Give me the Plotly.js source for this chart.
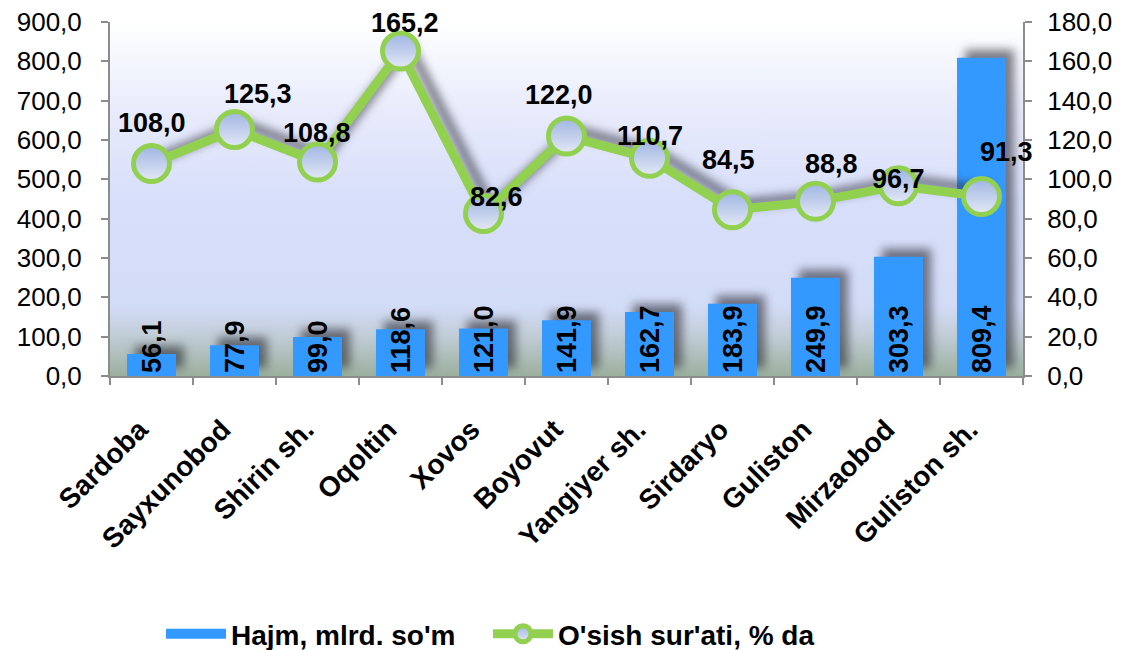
<!DOCTYPE html>
<html>
<head>
<meta charset="utf-8">
<script src="https://cdn.plot.ly/plotly-3.0.1.min.js"></script>
<style>
  html, body { margin: 0; padding: 0; background: #fff; }
  #chart { width: 1124px; height: 650px; }
  /* Excel-style soft shadows */
  #chart .barlayer .point path { filter: drop-shadow(8px -8px 5px rgba(40,40,50,0.6)); }
  #chart .scatterlayer .trace:last-child .js-line { filter: drop-shadow(8px -6px 5px rgba(30,30,40,0.6)); }
</style>
</head>
<body>
<div id="chart"></div>
<script>
(function () {
  "use strict";

  var CATEGORIES = [
    "Sardoba", "Sayxunobod", "Shirin sh.", "Oqoltin", "Xovos", "Boyovut",
    "Yangiyer sh.", "Sirdaryo", "Guliston", "Mirzaobod", "Guliston sh."
  ];
  var HAJM = [56.1, 77.9, 99.0, 118.6, 121.0, 141.9, 162.7, 183.9, 249.9, 303.3, 809.4];
  var OSISH = [108.0, 125.3, 108.8, 165.2, 82.6, 122.0, 110.7, 84.5, 88.8, 96.7, 91.3];

  var BAR_NAME = "Hajm, mlrd. so'm";
  var LINE_NAME = "O'sish sur'ati, % da";

  // hand-placed label nudges (px) like in the original sheet
  var LABEL_DX = [0, 23, -1, 4, 13, -8, 0, -4, 16, 0, 25];
  var LABEL_DY = [41, 36, 29, 28, 17, 41, 22, 50, 37, 7, 44];

  var FONT = "Liberation Sans, Arial, sans-serif";
  var BLUE = "#3399FF";
  var GREEN = "#92D050";
  var AXIS_GREY = "#8c8c8c";

  function fmt(v) {
    return v.toFixed(1).replace(".", ",");
  }

  // plot-area background: white at top, lavender in the middle, grey-green at the floor
  var bgSvg =
    '<svg xmlns="http://www.w3.org/2000/svg" width="100" height="100" preserveAspectRatio="none">' +
    '<defs><linearGradient id="g" x1="0" y1="0" x2="0" y2="1">' +
    '<stop offset="0" stop-color="#ffffff"/>' +
    '<stop offset="0.25" stop-color="#e8ebfb"/>' +
    '<stop offset="0.5" stop-color="#d8dffa"/>' +
    '<stop offset="0.8" stop-color="#d3dcf7"/>' +
    '<stop offset="0.88" stop-color="#c3ceda"/>' +
    '<stop offset="1" stop-color="#9cb09e"/>' +
    '</linearGradient></defs>' +
    '<rect width="100" height="100" fill="url(#g)"/></svg>';

  var bars = {
    type: "bar",
    name: BAR_NAME,
    x: CATEGORIES,
    y: HAJM,
    width: 0.59,
    marker: { color: BLUE },
    text: HAJM.map(fmt),
    textposition: "inside",
    insidetextanchor: "start",
    textangle: -90,
    constraintext: "none",
    cliponaxis: false,
    textfont: { family: FONT, size: 27, color: "#000", weight: "bold" },
    showlegend: false,
    hoverinfo: "skip"
  };

  // legend-only entry so the bar key is a wide block like the original
  var barKey = {
    type: "scatter",
    mode: "lines",
    name: BAR_NAME,
    x: [CATEGORIES[0]],
    y: [null],
    line: { color: BLUE, width: 14 },
    hoverinfo: "skip"
  };

  var line = {
    type: "scatter",
    mode: "lines+markers",
    name: LINE_NAME,
    x: CATEGORIES,
    y: OSISH,
    yaxis: "y2",
    line: { color: GREEN, width: 9 },
    marker: {
      symbol: "circle",
      size: 36,
      color: "#9fb5e2",
      gradient: { type: "vertical", color: "#e4e9f6" },
      line: { color: GREEN, width: 5 }
    },
    cliponaxis: false,
    hoverinfo: "skip"
  };

  var annotations = OSISH.map(function (v, i) {
    return {
      x: CATEGORIES[i], y: v, xref: "x", yref: "y2",
      text: fmt(v),
      showarrow: false,
      xshift: LABEL_DX[i], yshift: LABEL_DY[i],
      font: { family: FONT, size: 27, color: "#000", weight: "bold" }
    };
  });

  var layout = {
    width: 1124,
    height: 650,
    margin: { l: 110, r: 101, t: 22, b: 274, autoexpand: false },
    paper_bgcolor: "#ffffff",
    plot_bgcolor: "rgba(0,0,0,0)",
    font: { family: FONT, color: "#000" },
    separators: ", ",
    showlegend: true,
    legend: {
      orientation: "h",
      x: 0.414, xanchor: "center",
      y: -0.729, yanchor: "middle",
      font: { family: FONT, size: 28, weight: "bold" },
      itemwidth: 60,
      entrywidth: 252, entrywidthmode: "pixels",
      traceorder: "normal"
    },
    xaxis: {
      type: "category",
      range: [-0.5, CATEGORIES.length - 0.5],
      showline: true, linecolor: AXIS_GREY, linewidth: 2,
      ticks: "outside", tickson: "boundaries", ticklen: 7, tickcolor: AXIS_GREY, tickwidth: 2,
      tickangle: -45,
      ticklabelshift: -12, ticklabelstandoff: 24,
      tickfont: { family: FONT, size: 28, weight: "bold" },
      showgrid: false, zeroline: false
    },
    yaxis: {
      range: [0, 900], dtick: 100, tickformat: ".1f",
      showline: true, linecolor: AXIS_GREY, linewidth: 2,
      ticks: "outside", ticklen: 7, tickcolor: AXIS_GREY, tickwidth: 2,
      ticklabelstandoff: 14,
      tickfont: { family: FONT, size: 26 },
      showgrid: false, zeroline: false
    },
    yaxis2: {
      overlaying: "y", side: "right",
      range: [0, 180], dtick: 20, tickformat: ".1f",
      showline: true, linecolor: AXIS_GREY, linewidth: 2,
      ticks: "outside", ticklen: 7, tickcolor: AXIS_GREY, tickwidth: 2,
      ticklabelstandoff: 10,
      tickfont: { family: FONT, size: 26 },
      showgrid: false, zeroline: false
    },
    images: [{
      source: "data:image/svg+xml;charset=utf-8," + encodeURIComponent(bgSvg),
      xref: "paper", yref: "paper",
      x: 0, y: 1, sizex: 1, sizey: 1,
      xanchor: "left", yanchor: "top",
      sizing: "stretch", layer: "below"
    }],
    annotations: annotations
  };

  Plotly.newPlot("chart", [bars, barKey, line], layout, { displayModeBar: false, staticPlot: true });
})();
</script>
</body>
</html>
